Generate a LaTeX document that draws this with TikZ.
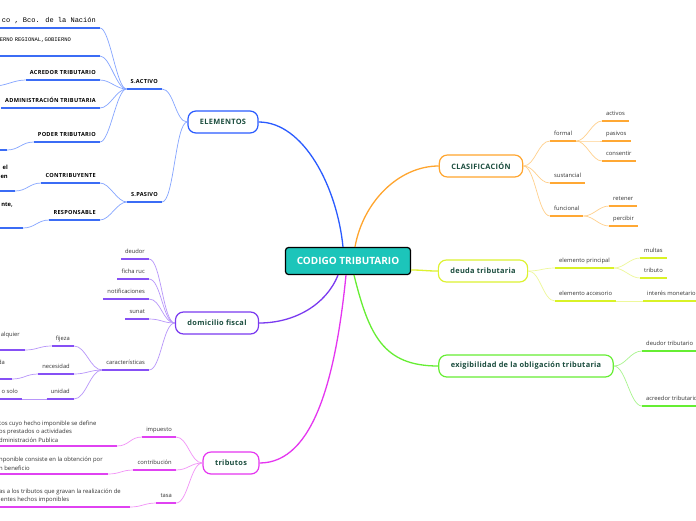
\documentclass[tikz,border=0pt]{standalone}
\usepackage{fontspec}
\setmainfont{Open Sans}
\newfontfamily\spaced[LetterSpace=5]{Open Sans}
\newfontfamily\topicfam[LetterSpace=4]{Open Sans}
\newfontfamily\monofam{Liberation Mono}
\definecolor{coreteal}{HTML}{1CC5BA}
\definecolor{topicgreen}{HTML}{1B4D3E}
\definecolor{blueM}{HTML}{2A5BFF}
\definecolor{blueU}{HTML}{3B6CF5}
\definecolor{blueL}{HTML}{85A5FF}
\definecolor{purM}{HTML}{7A3AF0}
\definecolor{purU}{HTML}{8650F5}
\definecolor{purL}{HTML}{B896FA}
\definecolor{magM}{HTML}{E535F0}
\definecolor{magU}{HTML}{E042F2}
\definecolor{magL}{HTML}{F292F7}
\definecolor{oraM}{HTML}{FFA52E}
\definecolor{oraU}{HTML}{FFA834}
\definecolor{oraL}{HTML}{FFD08C}
\definecolor{yelM}{HTML}{DDF230}
\definecolor{yelU}{HTML}{D9F227}
\definecolor{yelL}{HTML}{EEF89A}
\definecolor{greM}{HTML}{66EE33}
\definecolor{greU}{HTML}{66EE33}
\definecolor{greL}{HTML}{A9F58E}

\begin{document}
\begin{tikzpicture}[x=1pt,y=-1pt,
    core/.style={draw=black,line width=1.2pt,fill=coreteal,rounded corners=3pt,text=white,
    font=\bfseries\fontsize{10}{12}\selectfont,minimum width=125pt,minimum height=27pt},
    topic/.style={draw=#1,line width=1.2pt,fill=white,rounded corners=8pt,text=topicgreen,
    font=\topicfam\bfseries\fontsize{7.4}{8}\selectfont,inner xsep=12pt,minimum height=22pt},
    sub/.style={text=black!80,font=\fontsize{5.8}{8.5}\selectfont,inner xsep=4pt,
    inner ysep=3.4pt,text height=4pt,text depth=1.5pt},
    capsub/.style={sub,text=black,font=\spaced\bfseries\fontsize{5.6}{8.5}\selectfont},
    bfrag/.style={capsub,font=\bfseries\fontsize{5.8}{9}\selectfont},
    monoa/.style={sub,text=black,font=\monofam\fontsize{7}{8}\selectfont},
    monob/.style={sub,text=black,font=\monofam\fontsize{5.5}{7}\selectfont},
    para/.style={text=black!80,font=\fontsize{5.9}{8.5}\selectfont,align=left,
    inner xsep=4pt,inner ysep=3.4pt},
    ul/.style={line width=1.6pt,draw=#1},
    lnk/.style={line width=.7pt,draw=#1},
    main/.style={line width=1.3pt,draw=#1},
    tol/.style={to path={.. controls +(-#1,0) and +(#1,0) .. (\tikztotarget)}},
    tol/.default=12,
    tor/.style={to path={.. controls +(#1,0) and +(-#1,0) .. (\tikztotarget)}},
    tor/.default=12]

    \path[use as bounding box,fill=white] (0,0) rectangle (696,520);

    \node[core] (cod) at (348,261) {CODIGO TRIBUTARIO};

    \node[topic=blueM] (elem) at (223,122) {ELEMENTOS};
    \node[topic=purM] (dom) at (217,323) {domicilio fiscal};
    \node[topic=magM] (trib) at (231,463) {tributos};
    \node[topic=oraM] (clas) at (481,166) {CLASIFICACIÓN};
    \node[topic=yelM] (deu) at (483,271) {deuda tributaria};
    \node[topic=greM] (exi) at (526,366) {exigibilidad de la obligación tributaria};

    \draw[main=blueM] ([xshift=-5pt]cod.north) .. controls +(-6,-60) and +(45,0) .. (elem.east);
    \draw[main=oraM] ([xshift=7pt]cod.north) .. controls +(8,-45) and +(-40,0) .. (clas.west);
    \draw[main=purM] ([xshift=-10pt]cod.south) .. controls +(-12,30) and +(35,0) .. (dom.east);
    \draw[main=magM] ([xshift=-2pt]cod.south) .. controls +(-10,100) and +(55,0) .. (trib.east);
    \draw[main=greM] ([xshift=6pt]cod.south) .. controls +(15,60) and +(-55,0) .. (exi.west);
    \draw[main=yelM] ([yshift=-9pt]cod.east) .. controls +(12,0) and +(-12,0) .. (deu.west);

    % ELEMENTOS
    \node[capsub,anchor=south east] (sact) at (162,89) {S.ACTIVO};
    \node[capsub,anchor=south east] (spas) at (162,202) {S.PASIVO};
    \node[monoa,anchor=south east] (bco) at (100,28) {co , Bco. de la Nación};
    \node[monob,anchor=south east,text width=96pt,align=left,text depth=10.5pt] (gob) at (100,56) {ERNO REGIONAL,GOBIERNO};
    \node[capsub,anchor=south east] (acr) at (100,80) {ACREDOR TRIBUTARIO};
    \node[capsub,anchor=south east] (adm) at (100,108) {ADMINISTRACIÓN TRIBUTARIA};
    \node[capsub,anchor=south east] (pod) at (100,142) {PODER TRIBUTARIO};
    \node[capsub,anchor=south east] (con) at (100,183) {CONTRIBUYENTE};
    \node[capsub,anchor=south east] (res) at (100,220) {RESPONSABLE};
    \coordinate (acrx) at (-6,86);
    \coordinate (podx) at (7,150);
    \coordinate (conx) at (15,191);
    \coordinate (resx) at (23,228);
    \node[bfrag,anchor=east,align=right,text height=,text depth=] (conf) at (12,171.5) {el\\en};
    \node[bfrag,anchor=east] (resf) at (17,205) {nte,};

    \foreach \X in {sact,spas} \draw[lnk=blueL] (elem.west) to[tol] (\X.south east);
    \foreach \X in {bco,gob,acr,adm,pod} \draw[lnk=blueL] (sact.south west) to[tol=10] (\X.south east);
    \foreach \X in {con,res} \draw[lnk=blueL] (spas.south west) to[tol=10] (\X.south east);
    \draw[lnk=blueL] (acr.south west) to[tol] (acrx);
    \draw[lnk=blueL] (pod.south west) to[tol] (podx);
    \draw[lnk=blueL] (con.south west) to[tol] (conx);
    \draw[lnk=blueL] (res.south west) to[tol] (resx);
    \foreach \X in {sact,spas,bco,gob,acr,adm,pod,con,res}
      \draw[ul=blueU] (\X.south west) -- (\X.south east);
    \foreach \X in {podx,conx,resx} \draw[ul=blueU] (\X) -- ++(-30,0);

    % domicilio fiscal
    \node[sub,anchor=south east] (deud) at (149,259) {deudor};
    \node[sub,anchor=south east] (ruc) at (149,279) {ficha ruc};
    \node[sub,anchor=south east] (noti) at (149,299) {notificaciones};
    \node[sub,anchor=south east] (sun) at (149,319) {sunat};
    \node[sub,anchor=south east] (car) at (149,370) {características};
    \node[sub,anchor=south east] (fij) at (74,346) {fijeza};
    \node[sub,anchor=south east] (nec) at (74,374) {necesidad};
    \node[sub,anchor=south east] (uni) at (74,399) {unidad};
    \coordinate (fijx) at (25,350);
    \coordinate (necx) at (12,379);
    \node[sub,anchor=south east] (unis) at (22,399) {o solo};
    \node[sub,anchor=east] (fijf) at (24,335) {alquier};
    \node[sub,anchor=east] (necf) at (9,363) {da};

    \foreach \X in {deud,ruc,noti,sun,car} \draw[lnk=purL] (dom.west) to[tol] (\X.south east);
    \foreach \X in {fij,nec,uni} \draw[lnk=purL] (car.south west) to[tol] (\X.south east);
    \draw[lnk=purL] (fij.south west) to[tol] (fijx);
    \draw[lnk=purL] (nec.south west) to[tol] (necx);
    \draw[lnk=purL] (uni.south west) to[tol] (unis.south east);
    \foreach \X in {deud,ruc,noti,sun,car,fij,nec,uni,unis}
      \draw[ul=purU] (\X.south west) -- (\X.south east);
    \foreach \X in {fijx,necx} \draw[ul=purU] (\X) -- ++(-30,0);

    % tributos
    \node[sub,anchor=south east] (imp) at (176,437) {impuesto};
    \node[sub,anchor=south east] (cont) at (176,470) {contribución};
    \node[sub,anchor=south east] (tasa) at (176,503) {tasa};
    \coordinate (impx) at (117,446);
    \coordinate (contx) at (108,474);
    \coordinate (tasax) at (130,507);
    \node[para,anchor=south west] (impd) at (-5,446) {tos cuyo hecho imponible se define\\os prestados o actividades\\dministración Publica};
    \node[para,anchor=south west] (contd) at (-5,474) {nponible consiste en la obtención por\\n beneficio};
    \node[para,anchor=south west] (tasad) at (-5,507) {as a los tributos que gravan la realización de\\ientes hechos imponibles};

    \foreach \X in {imp,cont,tasa} \draw[lnk=magL] (trib.west) to[tol] (\X.south east);
    \foreach \X in {imp,cont,tasa} \draw[lnk=magL] (\X.south west) to[tol] (\X x);
    \foreach \X in {imp,cont,tasa} \draw[ul=magU] (\X.south west) -- (\X.south east);
    \foreach \X in {imp,cont,tasa} \draw[ul=magU] (\X d.south west) -- (\X x);

    % CLASIFICACION
    \node[sub,anchor=south west] (form) at (550,141) {formal};
    \node[sub,anchor=south west] (sust) at (550,183) {sustancial};
    \node[sub,anchor=south west] (func) at (550,216) {funcional};
    \node[sub,anchor=south west] (act) at (602,121) {activos};
    \node[sub,anchor=south west] (pas) at (602,141) {pasivos};
    \node[sub,anchor=south west] (cons) at (602,161) {consentir};
    \node[sub,anchor=south west] (ret) at (609,206) {retener};
    \node[sub,anchor=south west] (perc) at (609,226) {percibir};

    \foreach \X in {form,sust,func} \draw[lnk=oraL] (clas.east) to[tor] (\X.south west);
    \foreach \X in {act,pas,cons} \draw[lnk=oraL] (form.south east) to[tor=10] (\X.south west);
    \foreach \X in {ret,perc} \draw[lnk=oraL] (func.south east) to[tor=10] (\X.south west);
    \foreach \X in {form,sust,func,act,pas,cons,ret,perc}
      \draw[ul=oraU] (\X.south west) -- (\X.south east);

    % deuda tributaria
    \node[sub,anchor=south west] (eprin) at (555,268) {elemento principal};
    \node[sub,anchor=south west] (eacc) at (555,301) {elemento accesorio};
    \node[sub,anchor=south west] (mul) at (640,258) {multas};
    \node[sub,anchor=south west] (tbt) at (640,278) {tributo};
    \node[sub,anchor=south west] (intm) at (643,301) {interés monetario};

    \foreach \X in {eprin,eacc} \draw[lnk=yelL] (deu.east) to[tor] (\X.south west);
    \foreach \X in {mul,tbt} \draw[lnk=yelL] (eprin.south east) to[tor=10] (\X.south west);
    \draw[lnk=yelL] (eacc.south east) -- (intm.south west);
    \foreach \X in {eprin,eacc,mul,tbt,intm}
      \draw[ul=yelU] (\X.south west) -- (\X.south east);

    % exigibilidad
    \node[sub,anchor=south west] (dtri) at (642,351) {deudor tributario};
    \node[sub,anchor=south west] (atri) at (642,406) {acreedor tributario};
    \foreach \X in {dtri,atri} \draw[lnk=greL] (exi.east) to[tor] (\X.south west);
    \foreach \X in {dtri,atri} \draw[ul=greU] (\X.south west) -- (\X.south east);
\end{tikzpicture}
\end{document}
